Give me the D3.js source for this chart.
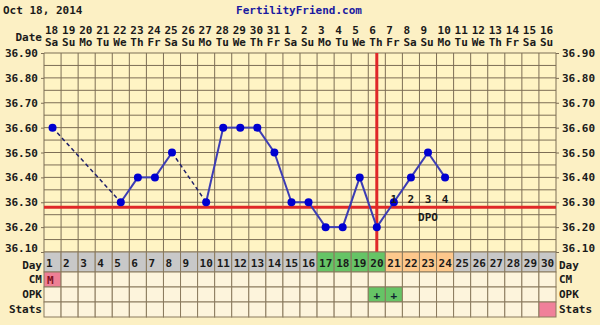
<!DOCTYPE html>
<html>
<head>
<meta charset="utf-8">
<script src="https://cdn.jsdelivr.net/npm/d3@7"></script>
<style>
  body { margin: 0; background: #fcf0c4; }
  svg text { font-family: "DejaVu Sans Mono", monospace; font-weight: bold; font-size: 11px; }
</style>
</head>
<body>
<script>
'use strict';

// Chart data
const days = d3.range(1, 31);
const dates = [18, 19, 20, 21, 22, 23, 24, 25, 26, 27, 28, 29, 30, 31, 1, 2, 3, 4, 5, 6, 7, 8, 9, 10, 11, 12, 13, 14, 15, 16];
const weekdays = ["Sa", "Su", "Mo", "Tu", "We", "Th", "Fr"];
const tempDays = [1, 5, 6, 7, 8, 10, 11, 12, 13, 14, 15, 16, 17, 18, 19, 20, 21, 22, 23, 24];
const temps = [36.60, 36.30, 36.40, 36.40, 36.50, 36.30, 36.60, 36.60, 36.60, 36.50, 36.30, 36.30, 36.20, 36.20, 36.40, 36.20, 36.30, 36.40, 36.50, 36.40];
const yTicks = [36.10, 36.20, 36.30, 36.40, 36.50, 36.60, 36.70, 36.80, 36.90];
const coverline = 36.28;
const ovulationDay = 20;
const dpoDays = [21, 22, 23, 24];
const fertileDays = [17, 18, 19, 20];
const lutealDays = [21, 22, 23, 24];
const cmEntries = [{ day: 1, label: "M" }];
const opkPositive = [20, 21];
const statsMarked = [30];

const W = 600, H = 325;
const svg = d3.select("body").append("svg").attr("width", W).attr("height", H);
svg.append("rect").attr("width", W).attr("height", H).attr("fill", "#fcf0c4");

const x = d3.scaleBand().domain(days).range([44, 556]);
const y = d3.scaleLinear().domain([36.1, 36.9]).range([252, 53]);
const cx = d => x(d) + x.bandwidth() / 2;

// Header
svg.append("text").attr("x", 3).attr("y", 14).attr("fill", "#1a1a1a").text("Oct 18, 2014");
svg.append("text").attr("x", 299).attr("y", 14).attr("text-anchor", "middle")
  .attr("fill", "#1a1aa0").text("FertilityFriend.com");
svg.append("text").attr("x", 42).attr("y", 41).attr("text-anchor", "end").attr("fill", "#1a1a1a").text("Date");

svg.selectAll("text.date").data(days).enter().append("text")
  .attr("x", d => x(d) + 1).attr("y", 34).attr("fill", "#1a1a1a")
  .text((d, i) => dates[i]);
svg.selectAll("text.wd").data(days).enter().append("text")
  .attr("x", d => x(d) + 1).attr("y", 46).attr("fill", "#1a1a1a")
  .text((d, i) => weekdays[i % 7]);

// Plot area
svg.append("rect").attr("x", 44).attr("y", 53).attr("width", 512).attr("height", 199).attr("fill", "#fff4c4");

const grid = svg.append("g").attr("stroke", "#7d6e55").attr("stroke-width", 1);
grid.selectAll("line.v").data(days.concat([31])).enter().append("line")
  .attr("x1", d => d === 31 ? 556 : x(d)).attr("x2", d => d === 31 ? 556 : x(d))
  .attr("y1", 53).attr("y2", 252);
grid.selectAll("line.h").data(d3.range(0, 17)).enter().append("line")
  .attr("x1", 44).attr("x2", 556)
  .attr("y1", i => y(36.1 + i * 0.05)).attr("y2", i => y(36.1 + i * 0.05));

// Axes labels (left and right)
const yl = d3.axisLeft(y).tickValues(yTicks).tickFormat(d3.format(".2f")).tickSize(3);
const yr = d3.axisRight(y).tickValues(yTicks).tickFormat(d3.format(".2f")).tickSize(3);
[[yl, 44], [yr, 556]].forEach(([ax, tx]) => {
  const g = svg.append("g").attr("transform", `translate(${tx},0)`).call(ax);
  g.select(".domain").remove();
  g.selectAll("line").attr("stroke", "#7d6e55");
  g.selectAll("text").attr("fill", "#1a1a1a").style("font-family", "DejaVu Sans Mono").style("font-weight", "bold").style("font-size", "11px");
  // lift the bottom label so it clears the Day row
  g.selectAll(".tick").filter(d => d === 36.10).select("text").attr("dy", "-0.05em");
});

// Coverline and ovulation line
svg.append("line").attr("x1", 44).attr("x2", 556).attr("y1", y(coverline)).attr("y2", y(coverline))
  .attr("stroke", "#e02828").attr("stroke-width", 3);
svg.append("line").attr("x1", cx(ovulationDay)).attr("x2", cx(ovulationDay)).attr("y1", 53).attr("y2", 252)
  .attr("stroke", "#e02828").attr("stroke-width", 3);

// Temperature line: dashed across missing days
const pts = tempDays.map((d, i) => ({ day: d, t: temps[i] }));
for (let i = 1; i < pts.length; i++) {
  const a = pts[i - 1], b = pts[i];
  const gap = b.day - a.day > 1;
  svg.append("line")
    .attr("x1", cx(a.day)).attr("y1", y(a.t)).attr("x2", cx(b.day)).attr("y2", y(b.t))
    .attr("stroke", gap ? "#20206a" : "#3c3cb4")
    .attr("stroke-width", gap ? 1.5 : 2)
    .attr("stroke-dasharray", gap ? "4,3" : null);
}
svg.selectAll("circle.pt").data(pts).enter().append("circle")
  .attr("cx", d => cx(d.day)).attr("cy", d => y(d.t)).attr("r", 4).attr("fill", "#0000d0");

// DPO labels
svg.selectAll("text.dpo").data(dpoDays).enter().append("text")
  .attr("x", d => cx(d)).attr("y", 203).attr("text-anchor", "middle").attr("fill", "#1a1a1a")
  .text((d, i) => i + 1);
svg.append("text").attr("x", cx(23)).attr("y", 221).attr("text-anchor", "middle").attr("fill", "#1a1a1a").text("DPO");

// Bottom table
const rows = [
  { name: "Day", y0: 252, h: 20 },
  { name: "CM", y0: 272, h: 15 },
  { name: "OPK", y0: 287, h: 15 },
  { name: "Stats", y0: 302, h: 15 }
];
function cellFill(row, d) {
  if (row === "Day") {
    if (fertileDays.includes(d)) return "#66c466";
    if (lutealDays.includes(d)) return "#fdc88c";
    return "#c8c8c8";
  }
  if (row === "CM" && cmEntries.some(c => c.day === d)) return "#ee7f95";
  if (row === "OPK" && opkPositive.includes(d)) return "#66c466";
  if (row === "Stats" && statsMarked.includes(d)) return "#f0809a";
  return "#fdf4dc";
}
rows.forEach(r => {
  svg.selectAll(null).data(days).enter().append("rect")
    .attr("x", d => x(d)).attr("y", r.y0).attr("width", x.bandwidth()).attr("height", r.h)
    .attr("fill", d => cellFill(r.name, d)).attr("stroke", "#8a7a5e").attr("stroke-width", 1);
  const ty = r.name === "Day" ? r.y0 + r.h - 3 : r.y0 + r.h - 4;
  svg.append("text").attr("x", 42).attr("y", ty).attr("text-anchor", "end").attr("fill", "#1a1a1a").text(r.name);
  svg.append("text").attr("x", 559).attr("y", ty).attr("fill", "#1a1a1a").text(r.name);
});
svg.selectAll("text.daynum").data(days).enter().append("text")
  .attr("x", d => x(d) + 2).attr("y", 267).attr("fill", "#1a1a1a").text(d => d);
svg.selectAll("text.cm").data(cmEntries).enter().append("text")
  .attr("x", d => x(d.day) + 3).attr("y", 284).attr("fill", "#801020").text(d => d.label);
svg.selectAll("text.opk").data(opkPositive).enter().append("text")
  .attr("x", d => cx(d)).attr("y", 299).attr("text-anchor", "middle").attr("fill", "#123").text("+");
</script>
</body>
</html>
